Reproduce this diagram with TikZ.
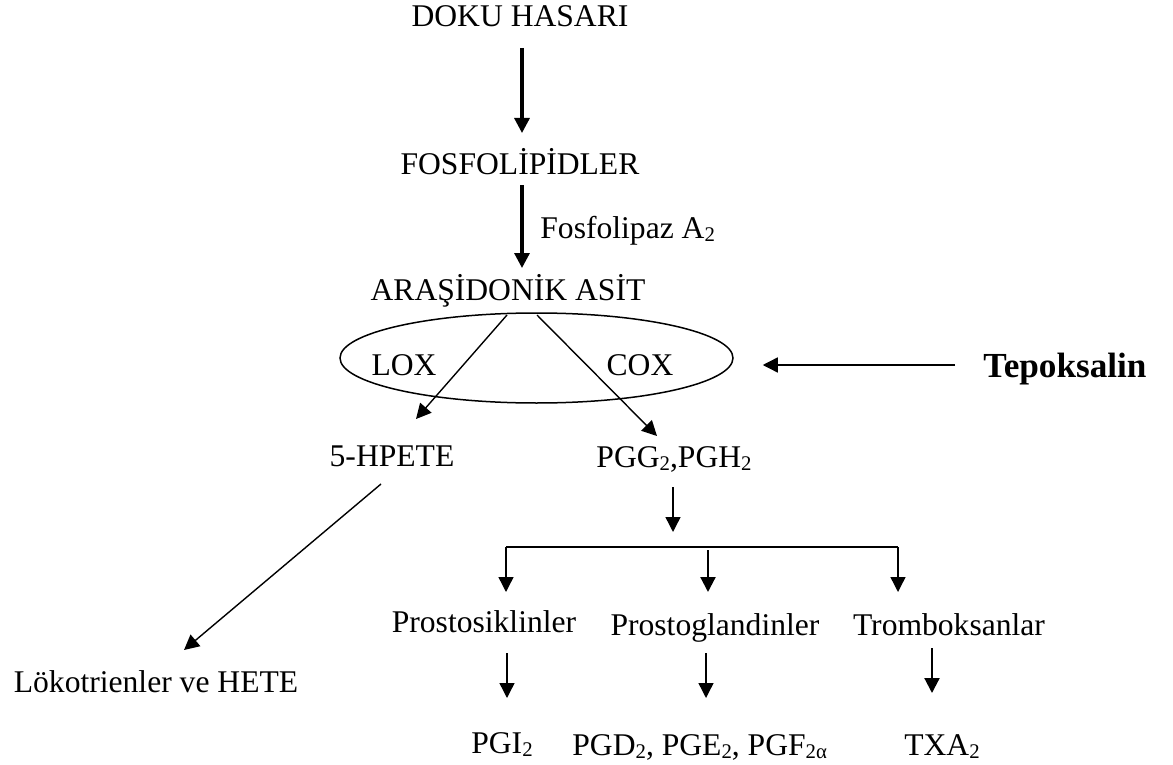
\documentclass[tikz,border=0pt]{standalone}
\usepackage{fontspec}
\setmainfont{Liberation Serif}
\usetikzlibrary{arrows.meta,shapes.geometric}

% small lowered index, as in chemical names
\newcommand{\idx}[1]{\raisebox{-1.7pt}{\fontsize{10.4}{12}\selectfont #1}}

\tikzset{
  lbl/.style={inner sep=0pt, anchor=base, font=\fontsize{15.8}{19}\selectfont},
  tip/.style={-{Triangle[length=7.5pt,width=7.5pt]}},
  thin arr/.style={tip, line width=0.7pt},
  mid arr/.style={tip, line width=1.1pt},
  bold arr/.style={tip, line width=1.6pt},
  plain line/.style={line width=0.75pt}
}

\begin{document}
\begin{tikzpicture}[x=0.5pt, y=-0.5pt]
\useasboundingbox (0,0) rectangle (1173,765);

% main chain
\node[lbl] (dh)  at (520,27)  {DOKU HASARI};
\node[lbl] (fos) at (520,175) {FOSFOLİPİDLER};
\node[lbl, anchor=base west] (fla) at (540,238) {Fosfolipaz A\idx{2}};
\node[lbl] (ara) at (508,300) {ARAŞİDONİK ASİT};

% enzymes
\node[draw, plain line, ellipse, inner sep=0pt, minimum width=196.5pt, minimum height=45pt] (enz) at (536.5,358) {};
\node[lbl] (lox) at (404,375) {LOX};
\node[lbl] (cox) at (640,375) {COX};
\node[inner sep=0pt, anchor=base, font=\fontsize{17.6}{21}\selectfont\bfseries] (tep) at (1065,377) {Tepoksalin};

% intermediates
\node[lbl] (hpete) at (392,466) {5-HPETE};
\node[lbl] (pgg)   at (674,467) {PGG\idx{2},PGH\idx{2}};
\node[lbl] (lok)   at (156,692) {Lökotrienler ve HETE};

% prostanoid classes
\node[lbl] (pcy) at (484,632) {Prostosiklinler};
\node[lbl] (pgl) at (715,635) {Prostoglandinler};
\node[lbl] (trx) at (949,635) {Tromboksanlar};

% end products
\node[lbl] (pgi) at (502,753) {PGI\idx{2}};
\node[lbl, anchor=base west] (pgd) at (572,755) {PGD\idx{2}, PGE\idx{2}, PGF\idx{2α}};
\node[lbl] (txa) at (942,755) {TXA\idx{2}};

% bracket ends
\coordinate (bl) at (506,547);
\coordinate (br) at (898,547);

% connectors
\draw[bold arr] ([shift={(2,21)}]dh.base) -- ([shift={(2,-42)}]fos.base);
\draw[bold arr] ([shift={(2,10)}]fos.base) -- ([shift={(14,-32)}]ara.base);

\draw[thin arr] ([shift={(-1,15)}]ara.base) -- ([shift={(24,-47)}]hpete.base);
\draw[thin arr] ([shift={(29,15)}]ara.base) -- ([shift={(-17,-31)}]pgg.base);

\draw[thin arr] ([shift={(-110,-12)}]tep.base) -- ([shift={(29,7)}]enz.east);

\draw[thin arr] ([shift={(-11,18)}]hpete.base) -- ([shift={(28,-42)}]lok.base);

\draw[thin arr] ([shift={(-1,20)}]pgg.base) -- ([shift={(-1,65)}]pgg.base);
\draw[plain line] (bl) -- (br);
\draw[thin arr] (bl) -- ([shift={(22,-40)}]pcy.base);
\draw[mid arr] ([shift={(-7,-85)}]pgl.base) -- ([shift={(-7,-43)}]pgl.base);
\draw[thin arr] (br) -- ([shift={(-51,-43)}]trx.base);

\draw[thin arr] ([shift={(23,21)}]pcy.base) -- ([shift={(5,-55)}]pgi.base);
\draw[thin arr] ([shift={(-9,18)}]pgl.base) -- ([shift={(134,-57)}]pgd.base west);
\draw[mid arr] ([shift={(-17,13)}]trx.base) -- ([shift={(-10,-62)}]txa.base);
\end{tikzpicture}
\end{document}
